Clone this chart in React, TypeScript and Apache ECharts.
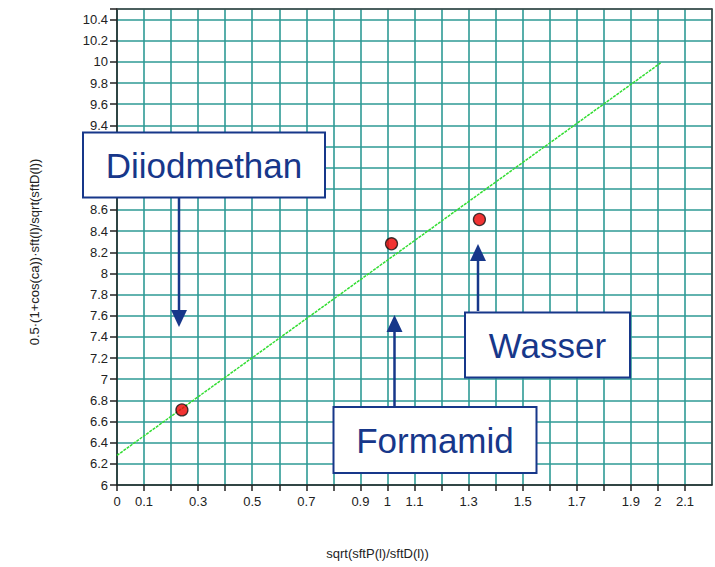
import React, { useEffect, useRef } from "react";
import * as echarts from "echarts";

const xTickLabels = ["0", "0.1", "0.3", "0.5", "0.7", "0.9", "1", "1.1", "1.3", "1.5", "1.7", "1.9", "2", "2.1"];
const sampleNames = ["Diiodmethan", "Formamid", "Wasser"];
const sampleX = [0.24, 1.015, 1.34];
const sampleY = [6.71, 8.28, 8.51];
const fitX = [0, 2.01];
const fitY = [6.28, 9.99];

const FONT = "Liberation Sans, Arial, Helvetica, sans-serif";
const NAVY = "#17378a";
const TEAL = "#2e9a95";

function fmt(v: number) {
  return String(parseFloat(v.toFixed(2)));
}

function box(name: string, cx: number, cy: number, w: number, h: number) {
  return [
    {
      type: "rect",
      z: 100,
      zlevel: 1,
      shape: { x: cx - w / 2, y: cy - h / 2, width: w, height: h },
      style: { fill: "#ffffff", stroke: NAVY, lineWidth: 2 },
    },
    {
      type: "text",
      z: 101,
      zlevel: 1,
      x: cx,
      y: cy,
      style: {
        text: name,
        fontFamily: FONT,
        fontSize: 35,
        fill: NAVY,
        align: "center",
        verticalAlign: "middle",
      },
    },
  ];
}

function arrow(x: number, y0: number, tip: number) {
  const dir = tip > y0 ? 1 : -1;
  const base = tip - dir * 17;
  return [
    {
      type: "line",
      z: 100,
      zlevel: 1,
      shape: { x1: x, y1: y0, x2: x, y2: base },
      style: { stroke: NAVY, lineWidth: 2.5 },
    },
    {
      type: "polygon",
      z: 100,
      zlevel: 1,
      shape: { points: [[x, tip], [x - 8, base], [x + 8, base]] },
      style: { fill: NAVY },
    },
  ];
}

export default function App() {
  const ref = useRef<HTMLDivElement>(null);
  useEffect(() => {
    if (!ref.current) return;
    const chart = echarts.init(ref.current, null, { renderer: "svg" });
    const points = sampleX.map((x, i) => ({ name: sampleNames[i], value: [x, sampleY[i]] }));
    const fit = fitX.map((x, i) => [x, fitY[i]]);
    chart.setOption({
      animation: false,
      backgroundColor: "#ffffff",
      textStyle: { fontFamily: FONT },
      grid: { left: 117, right: 3, top: 9, bottom: 82 },
      xAxis: [
        {
          type: "value",
          min: 0,
          max: 2.2,
          interval: 0.1,
          name: "sqrt(sftP(l)/sftD(l))",
          nameLocation: "middle",
          nameGap: 62,
          nameTextStyle: { fontSize: 13, color: "#222", fontFamily: FONT, padding: [0, 74, 0, 0] },
          axisLine: { show: true, onZero: false, lineStyle: { color: "#222", width: 1.5 } },
          axisTick: { show: true, inside: false, length: 6, lineStyle: { color: "#222", width: 1.5 } },
          axisLabel: {
            margin: 10,
            fontSize: 13,
            color: "#222",
            fontFamily: FONT,
            showMaxLabel: false,
            formatter: (v: number) => (xTickLabels.indexOf(fmt(v)) >= 0 ? fmt(v) : ""),
          },
          splitLine: { show: true, lineStyle: { color: TEAL, width: 1.6 } },
        },
        {
          type: "value",
          position: "top",
          min: 0,
          max: 2.2,
          axisLine: { show: true, onZero: false, lineStyle: { color: "#444", width: 1.5 } },
          axisTick: { show: false },
          axisLabel: { show: false },
          splitLine: { show: false },
        },
      ],
      yAxis: [
        {
          type: "value",
          min: 6,
          max: 10.5,
          interval: 0.2,
          name: "0.5·(1+cos(ca))·sft(l)/sqrt(sftD(l))",
          nameLocation: "middle",
          nameGap: 76,
          nameTextStyle: { fontSize: 13, color: "#222", fontFamily: FONT, padding: [0, 10, 0, 0] },
          axisLine: { show: true, onZero: false, lineStyle: { color: "#222", width: 1.5 } },
          axisTick: { show: true, inside: false, length: 7, lineStyle: { color: "#222", width: 1.5 } },
          axisLabel: {
            margin: 9,
            fontSize: 13,
            color: "#222",
            fontFamily: FONT,
            formatter: (v: number) => (v > 10.45 || (v > 8.7 && v < 9.3) ? "" : fmt(v)),
          },
          splitLine: { show: true, lineStyle: { color: TEAL, width: 1.6 } },
        },
        {
          type: "value",
          position: "right",
          min: 6,
          max: 10.5,
          axisLine: { show: true, onZero: false, lineStyle: { color: "#444", width: 1.5 } },
          axisTick: { show: false },
          axisLabel: { show: false },
          splitLine: { show: false },
        },
      ],
      series: [
        {
          type: "line",
          data: fit,
          symbol: "none",
          lineStyle: { color: "#33dd33", width: 1.5, type: [3, 1] },
          z: 3,
        },
        {
          type: "scatter",
          data: points,
          symbol: "circle",
          symbolSize: 12,
          itemStyle: { color: "#ee0000", borderColor: "#111", borderWidth: 1.3 },
          z: 4,
        },
      ],
      graphic: [
        ...box(sampleNames[0], 204, 165, 242, 65),
        ...box(sampleNames[1], 435, 440, 203, 66),
        ...box(sampleNames[2], 547.5, 345, 165, 65),
        ...arrow(179, 198, 327),
        ...arrow(394.5, 406, 315),
        ...arrow(478, 311, 244),
      ],
    });
    return () => chart.dispose();
  }, []);
  return <div ref={ref} style={{ position: "absolute", left: 0, top: 0, width: 715, height: 567 }} />;
}
